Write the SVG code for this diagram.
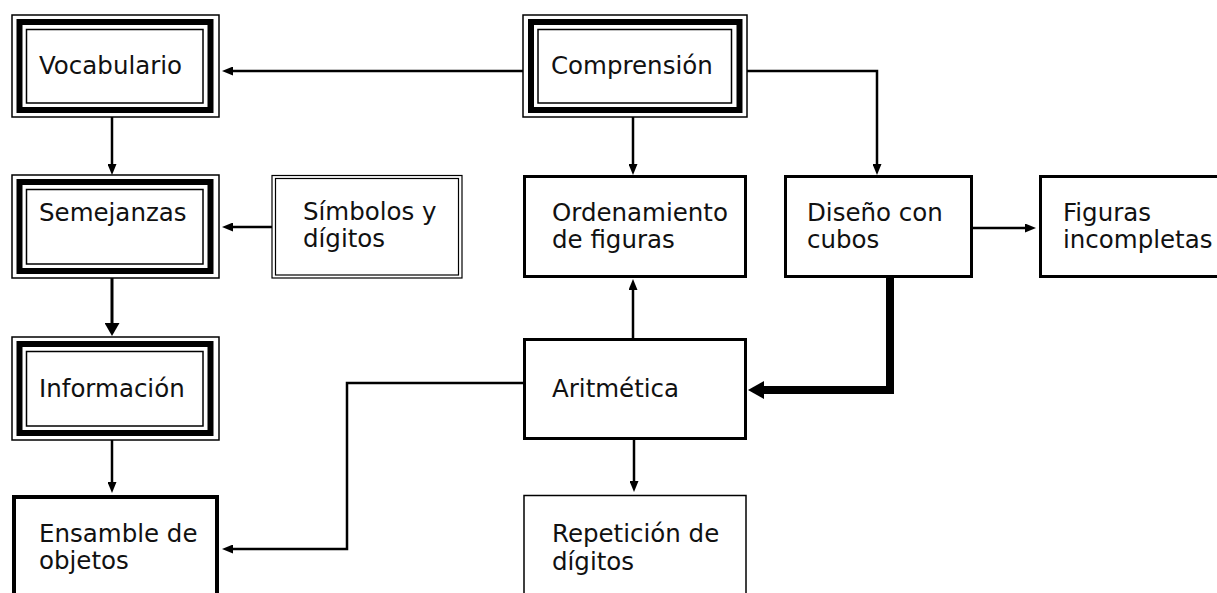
<svg xmlns="http://www.w3.org/2000/svg" width="1217" height="593" viewBox="0 0 1217 593">
<style>
  .bg{fill:#fff}
  .thin{fill:none;stroke:#000;stroke-width:1.5}
  .thick{fill:none;stroke:#000;stroke-width:6}
  .box{fill:#fff;stroke:#000;stroke-width:3}
  .lbl{font-family:"DejaVu Sans","Liberation Sans",sans-serif;font-size:24.5px;fill:#111}
  .conn{fill:none;stroke:#000;stroke-width:2.5}
</style>
<defs>
  <marker id="ah" markerUnits="userSpaceOnUse" markerWidth="11" markerHeight="9" refX="0" refY="4.5" orient="auto">
    <path d="M0,0 L11,4.5 L0,9 z" fill="#000"/>
  </marker>
  <marker id="ahm" markerUnits="userSpaceOnUse" markerWidth="13" markerHeight="15" refX="0" refY="7.5" orient="auto">
    <path d="M0,0 L13,7.5 L0,15 z" fill="#000"/>
  </marker>
  <marker id="ahb" markerUnits="userSpaceOnUse" markerWidth="16" markerHeight="18" refX="0" refY="9" orient="auto">
    <path d="M0,0 L16,9 L0,18 z" fill="#000"/>
  </marker>
</defs>
<rect class="bg" x="0" y="0" width="1217" height="593"/>

<g id="connectors">
  <path class="conn" d="M523,71 H233" marker-end="url(#ah)"/>
  <path class="conn" d="M633,117 V164" marker-end="url(#ah)"/>
  <path class="conn" d="M747,71 H877 V164" marker-end="url(#ah)"/>
  <path class="conn" d="M112,117 V164" marker-end="url(#ah)"/>
  <path class="conn" d="M272,227 H233" marker-end="url(#ah)"/>
  <path class="conn" style="stroke-width:3" d="M112,278 V323" marker-end="url(#ahm)"/>
  <path class="conn" d="M112,440 V482" marker-end="url(#ah)"/>
  <path class="conn" d="M523,383 H347 V549 H233" marker-end="url(#ah)"/>
  <path class="conn" d="M633,338 V290" marker-end="url(#ah)"/>
  <path class="conn" d="M634,440 V481" marker-end="url(#ah)"/>
  <path class="conn" d="M973,228 H1025" marker-end="url(#ah)"/>
  <path class="conn" style="stroke-width:8" d="M890,278 V390 H764" marker-end="url(#ahb)"/>
</g>

<g id="vocabulario">
  <rect class="thin" x="12" y="15" width="207" height="102"/>
  <rect class="thick" x="19.5" y="22" width="191" height="88"/>
  <rect class="thin" x="26.5" y="29.5" width="176.5" height="73.5"/>
  <text class="lbl" x="39" y="74">Vocabulario</text>
</g>

<g id="comprension">
  <rect class="thin" x="523" y="15" width="224" height="102"/>
  <rect class="thick" x="531" y="22" width="208.5" height="88"/>
  <rect class="thin" x="538" y="29.5" width="193.5" height="73.5"/>
  <text class="lbl" x="551" y="74">Comprensión</text>
</g>

<g id="semejanzas">
  <rect class="thin" x="12" y="175" width="207" height="103"/>
  <rect class="thick" x="19.5" y="182" width="191" height="89"/>
  <rect class="thin" x="26.5" y="189.5" width="176.5" height="74.5"/>
  <text class="lbl" x="39" y="221">Semejanzas</text>
</g>

<g id="simbolos">
  <rect class="thin" style="stroke-width:1.2" x="272" y="175.5" width="190" height="102.5"/>
  <rect class="thin" style="stroke-width:1.2" x="275.5" y="178.5" width="183" height="96.5"/>
  <text class="lbl" x="303" y="220">Símbolos y</text>
  <text class="lbl" x="303" y="247">dígitos</text>
</g>

<g id="informacion">
  <rect class="thin" x="12" y="337" width="207" height="103"/>
  <rect class="thick" x="19.5" y="344" width="191" height="89"/>
  <rect class="thin" x="26.5" y="351.5" width="176.5" height="74.5"/>
  <text class="lbl" x="39" y="397">Información</text>
</g>

<g id="ensamble">
  <rect class="box" style="stroke-width:4" x="14" y="497" width="203" height="150"/>
  <text class="lbl" x="39" y="542">Ensamble de</text>
  <text class="lbl" x="39" y="569">objetos</text>
</g>

<g id="ordenamiento">
  <rect class="box" x="524.5" y="176.5" width="221" height="100"/>
  <text class="lbl" x="552" y="221">Ordenamiento</text>
  <text class="lbl" x="552" y="248">de figuras</text>
</g>

<g id="diseno">
  <rect class="box" x="785.5" y="176.5" width="186" height="100"/>
  <text class="lbl" x="807" y="221">Diseño con</text>
  <text class="lbl" x="807" y="248">cubos</text>
</g>

<g id="figuras">
  <rect class="box" x="1040.5" y="176.5" width="220" height="100"/>
  <text class="lbl" x="1063" y="221">Figuras</text>
  <text class="lbl" x="1063" y="248">incompletas</text>
</g>

<g id="aritmetica">
  <rect class="box" x="524.5" y="339.5" width="221" height="99"/>
  <text class="lbl" x="552" y="397">Aritmética</text>
</g>

<g id="repeticion">
  <rect class="box" style="stroke-width:1.5" x="524" y="495.5" width="222" height="150"/>
  <text class="lbl" x="552" y="542">Repetición de</text>
  <text class="lbl" x="552" y="570">dígitos</text>
</g>
</svg>
